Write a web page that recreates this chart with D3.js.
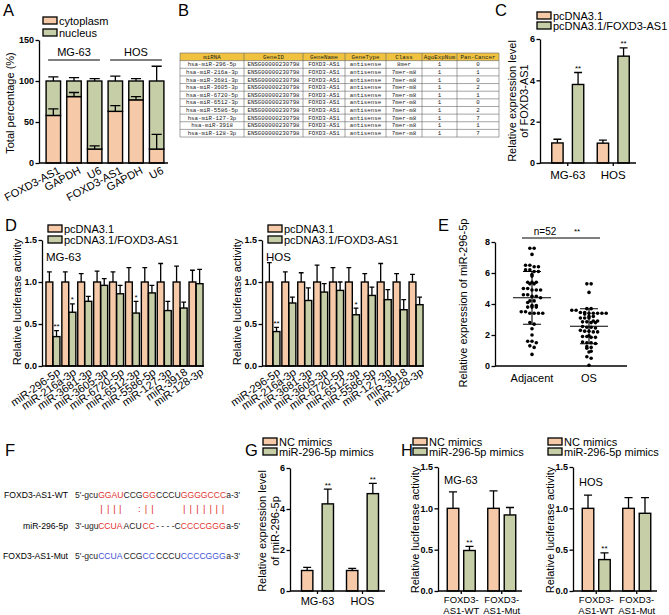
<!DOCTYPE html>
<meta charset="utf-8">
<script src="https://d3js.org/d3.v7.min.js"></script>
<style>
  body { margin: 0; background: #fff; }
  svg { font-family: "Liberation Sans", Arial, sans-serif; }
</style>
<body>
<svg id="fig" width="669" height="615"></svg>
<script>
var FONT = "'Liberation Sans', Arial, sans-serif";
var peach = "#f6caa9", sage = "#c5cea7", red = "#e2332f", blue = "#4452d6";
var colors = [peach, sage];

// ---- A: subcellular fraction
var aGenes = ["FOXD3-AS1", "GAPDH", "U6", "FOXD3-AS1", "GAPDH", "U6"];
var aCells = ["MG-63", "HOS"];
var aCyto = [58, 81, 17, 63, 77, 17];
var aCytoErr = [8, 5, 4, 7, 4, 18];
var aNucErr = [5, 4, 3, 6, 3, 18];

// ---- B: table
var tHead = ["miRNA", "GeneID", "GeneName", "GeneType", "Class", "AgoExpNum", "Pan-Cancer"];
var tMirna = ["hsa-miR-296-5p", "hsa-miR-216a-3p", "hsa-miR-3681-3p", "hsa-miR-3605-3p", "hsa-miR-6720-5p",
              "hsa-miR-6512-3p", "hsa-miR-5586-5p", "hsa-miR-127-3p", "hsa-miR-3918", "hsa-miR-128-3p"];
var tClass = ["8mer", "7mer-m8", "7mer-m8", "7mer-m8", "7mer-m8", "7mer-m8", "7mer-m8", "7mer-m8", "7mer-m8", "7mer-m8"];
var tAgo = [1, 1, 1, 1, 1, 1, 1, 1, 1, 1];
var tPan = [0, 1, 0, 2, 1, 0, 2, 7, 1, 7];

// ---- C
var cCells = ["MG-63", "HOS"];
var cSeries = ["pcDNA3.1", "pcDNA3.1/FOXD3-AS1"];
var cVal = [[0.97, 0.96], [3.8, 5.17]];
var cErr = [[0.18, 0.15], [0.58, 0.4]];
var cStar = [["", ""], ["**", "**"]];

// ---- D
var dMirs = ["miR-296-5p", "miR-216a-3p", "miR-3681-3p", "miR-3605-3p", "miR-6720-5p",
             "miR-6512-3p", "miR-5586-5p", "miR-127-3p", "miR-3918", "miR-128-3p"];
var dMgCtrl = [1, 1, 1, 1, 1, 1, 1, 1, 1, 1];
var dMgCtrlErr = [0.12, 0.12, 0.1, 0.13, 0.12, 0.17, 0.17, 0.22, 0.19, 0.14];
var dMgOe = [0.35, 0.64, 0.77, 0.96, 0.86, 0.63, 0.87, 0.66, 0.69, 0.98];
var dMgOeErr = [0.07, 0.1, 0.06, 0.08, 0.1, 0.14, 0.09, 0.11, 0.07, 0.17];
var dMgStar = ["**", "*", "", "", "", "*", "", "", "", ""];
var dHosCtrl = [1, 1, 1, 1, 1, 1, 1, 1, 1, 1];
var dHosCtrlErr = [0.23, 0.12, 0.11, 0.2, 0.17, 0.17, 0.1, 0.22, 0.1, 0.09];
var dHosOe = [0.41, 0.75, 0.78, 0.88, 0.9, 0.61, 0.84, 0.79, 0.67, 0.73];
var dHosOeErr = [0.05, 0.07, 0.15, 0.1, 0.1, 0.08, 0.1, 0.12, 0.12, 0.09];
var dHosStar = ["**", "", "", "", "", "*", "", "", "", ""];

// ---- E
var eGroups = ["Adjacent", "OS"];
var eAdjacent = [7.6, 7.6, 7.2, 6.5, 6.5, 6.4, 6.4, 6.2, 6.2, 6.1, 6.1, 5.9, 5.8,
  5.4, 5.4, 5.4, 5.3, 5.3, 5.0, 5.0, 4.9, 4.9, 4.9, 4.6, 4.6, 4.5, 4.5, 4.4,
  4.2, 4.2, 4.1, 3.9, 3.9, 3.8, 3.8, 3.8, 3.5, 3.5, 3.4, 3.4, 3.4, 3.4,
  2.8, 2.7, 2.4, 2.0, 1.6, 1.6, 1.5, 1.3, 1.2, 0.75];
var eOS = [5.3, 5.3, 4.75, 3.7, 3.7, 3.6, 3.6, 3.45, 3.45, 3.4, 3.4, 3.4, 3.4, 3.4, 3.35,
  3.2, 3.2, 3.1, 3.1, 3.1, 2.9, 2.9, 2.85, 2.85, 2.8, 2.8, 2.55, 2.5, 2.5, 2.45,
  2.3, 2.25, 2.25, 2.2, 2.2, 1.95, 1.9, 1.9, 1.85, 1.85, 1.55, 1.5, 1.5, 1.45,
  1.25, 1.2, 1.15, 0.95, 0.9, 0.6, 0.5, 0.05];

// ---- F
var fNames = ["FOXD3-AS1-WT", "miR-296-5p", "FOXD3-AS1-Mut"];
var fSeqs = [
  ["5'-gcu", "GGAU", "CCG", "GG", "CCCU", "GGGGCCC", "a-3'"],
  ["3'-ugu", "CCUA", "ACU", "CC", "- - - -C", "CCCCGGG", "a-5'"],
  ["5'-gcu", "CCUA", "CCG", "CC", "CCCU", "CCCCGGG", "a-3'"]
];
var fHi = [red, red, blue];
var fPairs = "      ||||  :||    |||||||    ";

// ---- G / H
var mSeries = ["NC mimics", "miR-296-5p mimics"];
var gCells = ["MG-63", "HOS"];
var gVal = [[1.0, 1.0], [4.25, 4.75]];
var gErr = [[0.15, 0.1], [0.72, 0.5]];
var gStar = [["", ""], ["**", "**"]];
var hGroups = [["FOXD3-", "AS1-WT"], ["FOXD3-", "AS1-Mut"]];
var h1Val = [[1.0, 1.0], [0.49, 0.92]];
var h1Err = [[0.2, 0.21], [0.05, 0.09]];
var h2Val = [[1.0, 1.0], [0.38, 0.94]];
var h2Err = [[0.16, 0.13], [0.08, 0.19]];
var hStar = [["", ""], ["**", ""]];

var svg = d3.select("#fig");

function txt(t, x, y, fs, anchor) {
  return svg.append("text").attr("x", x).attr("y", y).attr("font-size", fs)
    .attr("text-anchor", anchor || "start").text(t);
}
function panel(t, x, y) { txt(t, x, y, 16.5); }

function yLabel(lines, x, cy, gap) {
  var t = svg.append("text").attr("transform", "translate(" + x + "," + cy + ") rotate(-90)")
    .attr("text-anchor", "middle").attr("font-size", 11);
  lines.forEach(function(l, i) {
    t.append("tspan").attr("x", 0).attr("dy", i ? gap : 0).text(l);
  });
}

function yAxis(scale, x, ticks, fmt) {
  var g = svg.append("g").attr("transform", "translate(" + x + ",0)")
    .call(d3.axisLeft(scale).tickValues(ticks).tickFormat(fmt).tickSize(3.5).tickSizeOuter(0).tickPadding(1.5));
  g.attr("font-family", FONT).attr("font-size", 9).attr("font-weight", "bold");
  g.select(".domain").attr("stroke-width", 1.3);
  g.selectAll(".tick line").attr("stroke-width", 1.3);
  return g;
}

function legend(x, y, labels, gap) {
  labels.forEach(function(l, i) {
    svg.append("rect").attr("x", x).attr("y", y + i * gap).attr("width", 14).attr("height", 7)
      .attr("fill", colors[i]).attr("stroke", "#000").attr("stroke-width", 1.3);
    txt(l, x + 16, y + i * gap + 7.5, 11);
  });
}

function errPath(c, y0, y1, w) {
  return "M" + c + "," + y0 + "V" + y1 + "M" + (c - w) + "," + y1 + "H" + (c + w);
}

// grouped bar chart
function bars(o) {
  var y = d3.scaleLinear().domain(o.dom).range([o.yb, o.yt]);
  var x0 = d3.scaleBand().domain(d3.range(o.groups.length)).range(o.xr).paddingInner(o.pi).paddingOuter(o.po);
  var x1 = d3.scaleBand().domain(d3.range(o.vals.length)).range([-o.half, o.half]).paddingInner(o.bp);
  var rows = [];
  o.vals.forEach(function(vs, s) {
    vs.forEach(function(v, j) {
      rows.push({s: s, j: j, v: v, e: o.errs[s][j], star: o.stars ? o.stars[s][j] : ""});
    });
  });
  var bw = x1.bandwidth();
  var cx = function(d) { return x0(d.j) + x0.bandwidth() / 2 + x1(d.s) + bw / 2; };
  var g = svg.append("g");
  g.selectAll("rect").data(rows).join("rect")
    .attr("x", function(d) { return cx(d) - bw / 2; }).attr("width", bw)
    .attr("y", function(d) { return y(d.v); })
    .attr("height", function(d) { return y(0) - y(d.v); })
    .attr("fill", function(d) { return colors[d.s]; })
    .attr("stroke", "#000").attr("stroke-width", 1.4);
  g.selectAll("path").data(rows).join("path")
    .attr("d", function(d) { return errPath(cx(d), y(d.v), y(d.v + d.e), bw * 0.35); })
    .attr("stroke", "#000").attr("stroke-width", 1.3).attr("fill", "none");
  g.selectAll("text").data(rows.filter(function(d) { return d.star; })).join("text")
    .attr("x", cx).attr("y", function(d) { return y(d.v + d.e) - 1.5; })
    .attr("text-anchor", "middle").attr("font-size", 8).text(function(d) { return d.star; });
  yAxis(y, o.ax, o.ticks, o.fmt);
  svg.append("line").attr("x1", o.ax).attr("x2", o.xr[1]).attr("y1", y(0)).attr("y2", y(0))
    .attr("stroke", "#000").attr("stroke-width", 1.3);
  if (o.xticks) {
    o.groups.forEach(function(gr, j) {
      var c = x0(j) + x0.bandwidth() / 2;
      svg.append("line").attr("x1", c).attr("x2", c).attr("y1", y(0)).attr("y2", y(0) + 3)
        .attr("stroke", "#000").attr("stroke-width", 1.3);
    });
  }
  return {x0: x0, y: y, c: function(j) { return x0(j) + x0.bandwidth() / 2; }};
}

// ================= A
panel("A", 3, 16);
legend(43, 17, ["cytoplasm", "nucleus"], 12);
(function() {
  var y = d3.scaleLinear().domain([0, 150]).range([163, 40]);
  var x = d3.scaleBand().domain(d3.range(aGenes.length)).range([43, 167]).paddingInner(0.3).paddingOuter(0.15);
  var bw = x.bandwidth();
  var rows = aCyto.map(function(v, i) { return {i: i, c: v, ce: aCytoErr[i], ne: aNucErr[i]}; });
  var g = svg.append("g");
  g.selectAll("rect.cy").data(rows).join("rect").attr("class", "cy")
    .attr("x", function(d) { return x(d.i); }).attr("width", bw)
    .attr("y", function(d) { return y(d.c); }).attr("height", function(d) { return y(0) - y(d.c); })
    .attr("fill", peach).attr("stroke", "#000").attr("stroke-width", 1.4);
  g.selectAll("rect.nu").data(rows).join("rect").attr("class", "nu")
    .attr("x", function(d) { return x(d.i); }).attr("width", bw)
    .attr("y", y(100)).attr("height", function(d) { return y(d.c) - y(100); })
    .attr("fill", sage).attr("stroke", "#000").attr("stroke-width", 1.4);
  g.selectAll("path").data(rows).join("path")
    .attr("d", function(d) {
      var c = x(d.i) + bw / 2;
      return errPath(c, y(d.c), y(d.c + d.ce), bw * 0.35) + errPath(c, y(100), y(100 + d.ne), bw * 0.35);
    })
    .attr("stroke", "#000").attr("stroke-width", 1.3).attr("fill", "none");
  yAxis(y, 39, [0, 50, 100, 150], d3.format("d"));
  svg.append("line").attr("x1", 39).attr("x2", 168).attr("y1", y(0)).attr("y2", y(0))
    .attr("stroke", "#000").attr("stroke-width", 1.3);
  aCells.forEach(function(cName, k) {
    var a = x(k * 3) + 2, b = x(k * 3 + 2) + bw - 2;
    svg.append("line").attr("x1", a).attr("x2", b).attr("y1", 60).attr("y2", 60)
      .attr("stroke", "#000").attr("stroke-width", 1.2);
    txt(cName, (a + b) / 2, 56, 11, "middle");
  });
  aGenes.forEach(function(l, i) {
    svg.append("text").attr("transform", "translate(" + (x(i) + bw / 2 + 4) + ",166) rotate(-28)")
      .attr("text-anchor", "end").attr("dy", "0.7em").attr("font-size", 11).text(l);
  });
  yLabel(["Total percentage (%)"], 14, 103, 0);
})();

// ================= B
panel("B", 178, 16);
(function() {
  var cols = [180, 244, 303, 345, 386, 422, 457, 499];
  var top = 53, rh = 7.64;
  var cells = [tHead].concat(tMirna.map(function(m, i) {
    return [m, "ENSG00000230798", "FOXD3-AS1", "antisense", tClass[i], String(tAgo[i]), String(tPan[i])];
  }));
  svg.append("rect").attr("x", cols[0]).attr("y", top).attr("width", cols[7] - cols[0]).attr("height", rh)
    .attr("fill", "#f0c23f");
  cells.forEach(function(r, i) {
    r.forEach(function(c, k) {
      svg.append("text").attr("x", (cols[k] + cols[k + 1]) / 2).attr("y", top + i * rh + 5.6)
        .attr("text-anchor", "middle").attr("font-size", 5.8).attr("font-family", "'Liberation Mono', monospace")
        .attr("fill", "#222").text(c);
    });
  });
  d3.range(cells.length + 1).forEach(function(i) {
    svg.append("line").attr("x1", cols[0]).attr("x2", cols[7]).attr("y1", top + i * rh).attr("y2", top + i * rh)
      .attr("stroke", "#666").attr("stroke-width", 0.6);
  });
  cols.forEach(function(c) {
    svg.append("line").attr("x1", c).attr("x2", c).attr("y1", top).attr("y2", top + cells.length * rh)
      .attr("stroke", "#666").attr("stroke-width", 0.6);
  });
})();

// ================= C
panel("C", 495, 16);
legend(537, 12, cSeries, 10);
(function() {
  var r = bars({dom: [0, 6], yb: 163, yt: 39, ticks: [0, 2, 4, 6], fmt: d3.format("d"), ax: 540,
    groups: cCells, vals: cVal, errs: cErr, stars: cStar, xr: [545, 636], pi: 0.2, po: 0.1,
    half: 16, bp: 0.45, xticks: true});
  cCells.forEach(function(l, j) { txt(l, r.c(j), 179, 11.5, "middle"); });
  yLabel(["Relative expression level", "of FOXD3-AS1"], 516, 101, 11.5);
})();

// ================= D
panel("D", 5, 231);
function dPanel(ax, ctrl, ctrlErr, oe, oeErr, star, cell) {
  legend(ax + 6, 225, cSeries, 11);
  txt(cell, ax + 4, 261, 11.5);
  var r = bars({dom: [0, 1.5], yb: 366, yt: 240, ticks: [0, 0.5, 1, 1.5], fmt: d3.format(".1f"), ax: ax,
    groups: dMirs, vals: [ctrl, oe], errs: [ctrlErr, oeErr], stars: [dMirs.map(function() { return ""; }), star],
    xr: [ax + 3, ax + 162], pi: 0.12, po: 0.06, half: 7, bp: 0.04});
  dMirs.forEach(function(l, j) {
    svg.append("text").attr("transform", "translate(" + (r.c(j) + 4) + ",368) rotate(-35)")
      .attr("text-anchor", "end").attr("dy", "0.65em").attr("font-size", 11).text(l);
  });
  yLabel(["Relative luciferase activity"], ax - 21, 302, 0);
}
dPanel(42, dMgCtrl, dMgCtrlErr, dMgOe, dMgOeErr, dMgStar, "MG-63");
dPanel(262, dHosCtrl, dHosCtrlErr, dHosOe, dHosOeErr, dHosStar, "HOS");

// ================= E
panel("E", 438, 231);
(function() {
  var y = d3.scaleLinear().domain([0, 8]).range([366, 242]);
  var x = d3.scalePoint().domain(eGroups).range([532, 589]);
  yAxis(y, 495, [0, 2, 4, 6, 8], d3.format("d"));
  svg.append("line").attr("x1", 495).attr("x2", 627).attr("y1", y(0)).attr("y2", y(0))
    .attr("stroke", "#000").attr("stroke-width", 1.3);
  [eAdjacent, eOS].forEach(function(vals, k) {
    var cx = x(eGroups[k]);
    var pts = vals.map(function(v) { return {v: v, y: y(v)}; });
    d3.groups(pts, function(p) { return Math.round(p.y / 3.8); }).forEach(function(b) {
      b[1].forEach(function(p, i) { p.x = cx + (i - (b[1].length - 1) / 2) * 4.3; });
    });
    svg.append("g").selectAll("circle").data(pts).join("circle")
      .attr("cx", function(p) { return p.x; }).attr("cy", function(p) { return p.y; })
      .attr("r", 1.8).attr("fill", "#000");
    var m = d3.mean(vals), sd = d3.deviation(vals);
    var path = "M" + (cx - 19) + "," + y(m) + "H" + (cx + 19) +
      "M" + (cx - 9) + "," + y(m + sd) + "H" + (cx + 9) +
      "M" + (cx - 9) + "," + y(m - sd) + "H" + (cx + 9) +
      "M" + cx + "," + y(m + sd) + "V" + y(m - sd);
    svg.append("path").attr("d", path).attr("stroke", "#000").attr("stroke-width", 1.1).attr("fill", "none");
    txt(eGroups[k], cx, 382, 11, "middle");
  });
  svg.append("line").attr("x1", x("Adjacent") - 10).attr("x2", x("OS") + 11).attr("y1", 238).attr("y2", 238)
    .attr("stroke", "#000").attr("stroke-width", 1);
  txt("n=" + eAdjacent.length, 545, 235, 10, "middle");
  txt("**", 577, 234, 8, "middle");
  yLabel(["Relative expression of miR-296-5p"], 467, 303, 0);
})();

// ================= F
panel("F", 5, 456);
(function() {
  var base = [497.5, 529, 559];
  fNames.forEach(function(n, r) { txt(n, 68, base[r], 8.6, "end"); });
  var wt = svg.append("text").attr("x", 75).attr("y", base[0]).attr("font-size", 8.6);
  fSeqs[0].forEach(function(s, k) { wt.append("tspan").attr("fill", k % 2 ? fHi[0] : "#222").text(s); });
  var node = wt.node();
  var starts = [], idx = 0;
  fSeqs[0].forEach(function(s) { starts.push(node.getStartPositionOfChar(idx).x); idx += s.length; });
  [1, 2].forEach(function(r) {
    var t = svg.append("text").attr("y", base[r]).attr("font-size", 8.6);
    fSeqs[r].forEach(function(s, k) {
      t.append("tspan").attr("x", starts[k]).attr("fill", k % 2 ? fHi[r] : "#222").text(s);
    });
  });
  fPairs.split("").forEach(function(ch, i) {
    if (ch === " ") return;
    var e = node.getExtentOfChar(i);
    txt(ch, e.x + e.width / 2, 511.5, 9.5, "middle").attr("fill", red);
  });
})();

// ================= G
panel("G", 245, 456);
legend(263, 438, mSeries, 10);
(function() {
  var r = bars({dom: [0, 6], yb: 591, yt: 468, ticks: [0, 2, 4, 6], fmt: d3.format("d"), ax: 290,
    groups: gCells, vals: gVal, errs: gErr, stars: gStar, xr: [295, 385], pi: 0.2, po: 0.1,
    half: 16, bp: 0.45, xticks: true});
  gCells.forEach(function(l, j) { txt(l, r.c(j), 605, 11, "middle"); });
  yLabel(["Relative expression level", "of miR-296-5p"], 266, 531, 13);
})();

// ================= H
panel("H", 401, 456);
function hPanel(ax, vals, errs, cell, cellY) {
  legend(ax - 25, 438, mSeries, 10);
  txt(cell, ax + 6, cellY, 11);
  var r = bars({dom: [0, 1.5], yb: 591, yt: 467, ticks: [0, 0.5, 1, 1.5], fmt: d3.format(".1f"), ax: ax,
    groups: hGroups, vals: vals, errs: errs, stars: hStar, xr: [ax + 3, ax + 84], pi: 0.2, po: 0.1,
    half: 14, bp: 0.3, xticks: true});
  hGroups.forEach(function(l, j) {
    txt(l[0], r.c(j), 602.5, 9.5, "middle");
    txt(l[1], r.c(j), 613.5, 9.5, "middle");
  });
  yLabel(["Relative luciferase activity"], ax - 19, 530, 0);
}
hPanel(438, h1Val, h1Err, "MG-63", 484);
hPanel(573, h2Val, h2Err, "HOS", 486);
</script>
</body>
